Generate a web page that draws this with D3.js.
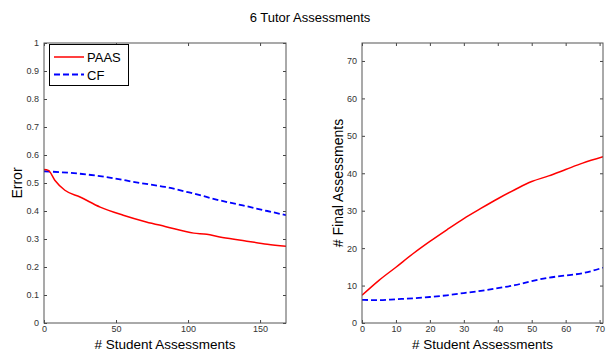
<!DOCTYPE html>
<html><head><meta charset="utf-8">
<script src="https://cdn.jsdelivr.net/npm/d3@7/dist/d3.min.js"></script>
<style>
body{margin:0;background:#fff;}
svg{display:block;font-family:"Liberation Sans",Arial,sans-serif;}
.tick text{fill:#333;font-size:9px;}
</style></head><body>
<svg id="c" width="606" height="352"></svg>
<script>
const title = "6 Tutor Assessments";
const seriesNames = ["PAAS", "CF"];
// Left panel: Error vs # Student Assessments
const leftPaasX = [0, 3, 7.5, 14.5, 25, 39, 55, 71, 84, 104, 113, 122, 138, 155, 168];
const leftPaasY = [0.548, 0.545, 0.51, 0.474, 0.45, 0.414, 0.385, 0.361, 0.345, 0.321, 0.317, 0.307, 0.295, 0.281, 0.274];
const leftCfX = [0, 25, 43.5, 66.7, 84, 104, 122, 138, 155, 168];
const leftCfY = [0.542, 0.533, 0.521, 0.5, 0.486, 0.462, 0.438, 0.42, 0.4, 0.385];
const leftXTicks = [0, 50, 100, 150];
const leftYTicks = [0, 0.1, 0.2, 0.3, 0.4, 0.5, 0.6, 0.7, 0.8, 0.9, 1];
// Right panel: # Final Assessments vs # Student Assessments
const rightPaasX = [0, 5, 10, 15, 20, 25, 30, 35, 40, 45, 50, 55, 60, 65, 71];
const rightPaasY = [7.4, 11.4, 14.9, 18.5, 21.8, 24.9, 27.9, 30.6, 33.2, 35.6, 37.8, 39.3, 41.0, 42.7, 44.4];
const rightCfX = [0, 5, 10, 15, 20, 25, 30, 35, 40, 45, 50, 55, 60, 65, 71];
const rightCfY = [6.2, 6.1, 6.35, 6.6, 6.95, 7.4, 8.0, 8.6, 9.3, 10.1, 11.2, 12.1, 12.7, 13.3, 14.8];
const rightXTicks = [0, 10, 20, 30, 40, 50, 60, 70];
const rightYTicks = [0, 10, 20, 30, 40, 50, 60, 70];

const svg = d3.select("#c");
svg.append("text").attr("x", 310).attr("y", 22).attr("text-anchor", "middle")
  .attr("font-size", 13).attr("fill", "#000").text(title);

function panel(o) {
  const x = d3.scaleLinear().domain(o.xd).range([o.l, o.r]);
  const y = d3.scaleLinear().domain(o.yd).range([o.b, o.t]);
  const g = svg.append("g");
  const fmt = d3.format("~g");
  const ax = (a, tr, lab) => {
    const gg = g.append("g").attr("transform", tr).call(a);
    gg.select(".domain").remove();
    gg.selectAll(".tick line").attr("stroke", "#444");
    if (!lab) gg.selectAll(".tick text").remove();
    return gg;
  };
  ax(d3.axisBottom(x).tickValues(o.xt).tickFormat(fmt).tickSizeInner(-3).tickPadding(3), `translate(0,${o.b})`, true);
  ax(d3.axisTop(x).tickValues(o.xt).tickSizeInner(-3), `translate(0,${o.t})`, false);
  ax(d3.axisLeft(y).tickValues(o.yt).tickFormat(fmt).tickSizeInner(-3).tickPadding(5), `translate(${o.l},0)`, true);
  ax(d3.axisRight(y).tickValues(o.yt).tickSizeInner(-3), `translate(${o.r},0)`, false);
  const line = d3.line().x(d => x(d[0])).y(d => y(d[1])).curve(d3.curveMonotoneX);
  const clipId = "clip" + o.l;
  g.append("clipPath").attr("id", clipId).append("rect")
    .attr("x", o.l).attr("y", o.t).attr("width", o.r - o.l).attr("height", o.b - o.t);
  g.append("path").datum(d3.zip(o.cfx, o.cfy)).attr("d", line).attr("fill", "none")
    .attr("stroke", "#0000ff").attr("stroke-width", 1.8).attr("stroke-dasharray", "6,3")
    .attr("clip-path", `url(#${clipId})`);
  g.append("path").datum(d3.zip(o.px, o.py)).attr("d", line).attr("fill", "none")
    .attr("stroke", "#ff0000").attr("stroke-width", 1.5).attr("clip-path", `url(#${clipId})`);
  g.append("rect").attr("x", o.l).attr("y", o.t).attr("width", o.r - o.l).attr("height", o.b - o.t)
    .attr("fill", "none").attr("stroke", "#555").attr("stroke-width", 1);
  g.append("text").attr("x", (o.l + o.r) / 2).attr("y", 348.5).attr("text-anchor", "middle")
    .attr("font-size", 13.5).attr("fill", "#000").text(o.xl);
  g.append("text").attr("transform", `translate(${o.yx},${(o.t + o.b) / 2}) rotate(-90)`)
    .attr("text-anchor", "middle").attr("font-size", 14).attr("fill", "#000").text(o.yl);
  return {x, y, g};
}

panel({l: 44, r: 286, t: 43, b: 323, xd: [0, 168], yd: [0, 1], xt: leftXTicks, yt: leftYTicks,
  px: leftPaasX, py: leftPaasY, cfx: leftCfX, cfy: leftCfY,
  xl: "# Student Assessments", yl: "Error", yx: 22});
panel({l: 362, r: 603, t: 43, b: 323, xd: [0, 71], yd: [0, 74.8], xt: rightXTicks, yt: rightYTicks,
  px: rightPaasX, py: rightPaasY, cfx: rightCfX, cfy: rightCfY,
  xl: "# Student Assessments", yl: "# Final Assessments", yx: 343});

// legend
const lg = svg.append("g");
lg.append("rect").attr("x", 49.5).attr("y", 44.5).attr("width", 79).attr("height", 41)
  .attr("fill", "#fff").attr("stroke", "#000").attr("stroke-width", 1);
const styles = [{c: "#ff0000", d: null, w: 1.5}, {c: "#0000ff", d: "6,3", w: 1.8}];
seriesNames.forEach((n, i) => {
  const yy = 57 + i * 17.5;
  lg.append("line").attr("x1", 54).attr("x2", 84).attr("y1", yy).attr("y2", yy)
    .attr("stroke", styles[i].c).attr("stroke-width", styles[i].w).attr("stroke-dasharray", styles[i].d);
  lg.append("text").attr("x", 87).attr("y", yy + 5).attr("font-size", 13).attr("fill", "#000").text(n);
});
</script></body></html>
